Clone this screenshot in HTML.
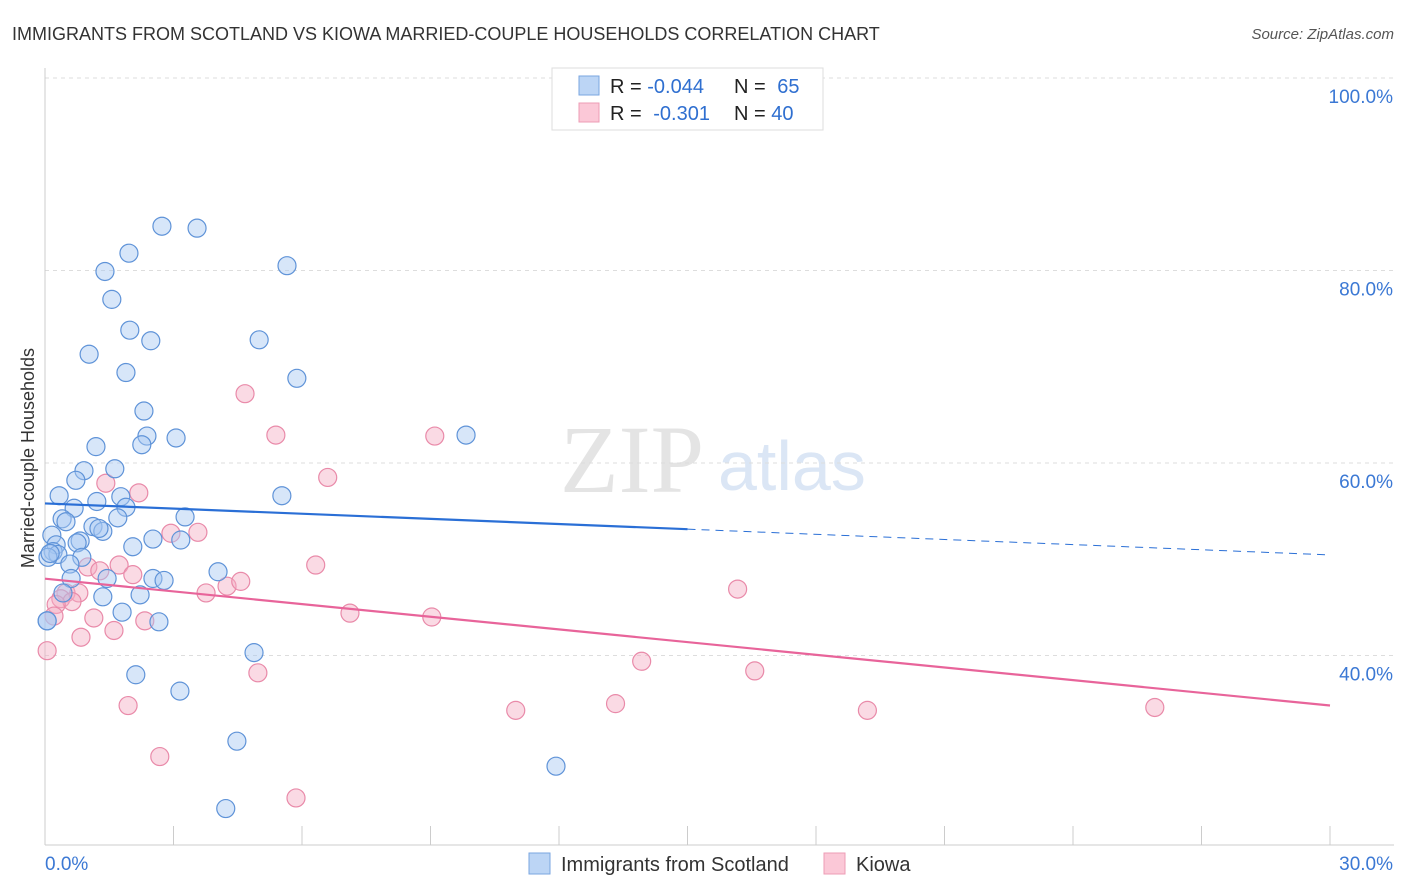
<!DOCTYPE html>
<html><head><meta charset="utf-8"><style>
body{margin:0;background:#fff;font-family:"Liberation Sans",sans-serif;}
svg{display:block}
</style></head><body>
<svg id="chart" width="1406" height="892">
<text x="12" y="40" font-size="18" fill="#333">IMMIGRANTS FROM SCOTLAND VS KIOWA MARRIED-COUPLE HOUSEHOLDS CORRELATION CHART</text>
<text x="1394" y="39" font-size="15" fill="#555" font-style="italic" text-anchor="end">Source: ZipAtlas.com</text>
<text x="560" y="492" font-size="96" fill="#e4e4e4" font-family="Liberation Serif">ZIP</text>
<text x="718" y="490" font-size="70" fill="#dbe6f5">atlas</text>
<g id="grid"></g><g id="pts"></g><g id="trend"></g>
<text transform="translate(34,458) rotate(-90)" font-size="18" fill="#333" text-anchor="middle">Married-couple Households</text>
<g>
<rect x="552" y="68" width="271" height="62" fill="#fff" stroke="#ddd"/>
<rect x="579" y="76" width="20" height="19" fill="#bcd5f5" stroke="#7aa6e0"/>
<rect x="579" y="103" width="20" height="19" fill="#fbc8d7" stroke="#ee9cb6"/>
<text x="610" y="93" font-size="20" fill="#222">R = <tspan fill="#2f6fd0">-0.044</tspan></text>
<text x="734" y="93" font-size="20" fill="#222">N = <tspan fill="#2f6fd0" dx="6">65</tspan></text>
<text x="610" y="120" font-size="20" fill="#222">R = <tspan fill="#2f6fd0" dx="6">-0.301</tspan></text>
<text x="734" y="120" font-size="20" fill="#222">N = <tspan fill="#2f6fd0">40</tspan></text>
</g>
<g>
<rect x="529" y="853" width="21" height="21" fill="#bcd5f5" stroke="#7aa6e0"/>
<text x="561" y="871" font-size="20" fill="#333">Immigrants from Scotland</text>
<rect x="824" y="853" width="21" height="21" fill="#fbc8d7" stroke="#ee9cb6"/>
<text x="856" y="871" font-size="20" fill="#333">Kiowa</text>
</g>
</svg>
<script>
const xTicks=[0,3,6,9,12,15,18,21,24,27,30];
const yTicks=[40,60,80,100];
const blueX=[2.73,3.55,1.96,5.65,1.4,1.56,1.98,2.47,5,1.03,1.89,5.88,2.31,2.38,3.06,2.26,9.83,1.19,0.33,0.91,1.63,0.72,1.21,1.77,1.89,5.53,0.68,0.4,0.49,1.7,3.27,1.12,1.35,1.26,0.16,0.82,0.75,0.26,2.52,3.17,2.05,0.19,0.3,0.86,0.58,4.04,0.61,1.45,2.52,2.78,0.42,1.35,2.22,1.8,2.66,0.05,4.88,2.12,3.15,4.48,11.93,4.22,0.07,0.12,0.05];
const blueY=[84.6,84.4,81.8,80.5,79.9,77,73.8,72.7,72.8,71.3,69.4,68.8,65.4,62.8,62.6,61.9,62.9,61.7,56.6,59.2,59.4,58.2,56,56.5,55.4,56.6,55.3,54.2,53.9,54.3,54.4,53.4,52.9,53.2,52.5,51.9,51.7,51.5,52.1,52,51.3,50.8,50.5,50.2,49.5,48.7,48,48,48,47.8,46.5,46.1,46.3,44.5,43.5,43.6,40.3,38,36.3,31.1,28.5,24.1,50.2,50.6,43.6];
const pinkX=[4.67,5.39,9.1,6.6,2.19,1.42,2.94,3.57,6.32,1.73,1.0,1.28,2.05,4.25,4.57,3.76,0.49,0.79,0.37,0.63,0.26,0.21,1.14,2.33,7.12,9.03,1.61,0.84,0.05,16.17,13.93,16.57,4.97,1.94,10.99,13.32,19.2,25.91,2.68,5.86];
const pinkY=[67.2,62.9,62.8,58.5,56.9,57.9,52.7,52.8,49.4,49.4,49.2,48.8,48.4,47.2,47.7,46.5,46.5,46.5,45.9,45.6,45.3,44.1,43.9,43.6,44.4,44,42.6,41.9,40.5,46.9,39.4,38.4,38.2,34.8,34.3,35,34.3,34.6,29.5,25.2];
const NS='http://www.w3.org/2000/svg';
const X=v=>45+v/30*1285, Y=v=>78+(100-v)/20*192.5;
function mk(t,a,p){const e=document.createElementNS(NS,t);for(const k in a)e.setAttribute(k,a[k]);p.appendChild(e);return e;}
const grid=document.getElementById('grid'),svg=document.getElementById('chart');
yTicks.forEach(v=>{const l=mk('line',{x1:45,x2:1394,y1:Y(v),y2:Y(v),stroke:'#ddd','stroke-dasharray':'4,4'},grid);


const t=mk('text',{x:1393,y:Y(v)+25,'font-size':19,fill:'#3b78d4','text-anchor':'end'},grid);t.textContent=v.toFixed(1)+'%';

});
const ax=mk('line',{x1:45,x2:45,y1:68,y2:845,stroke:'#ccc'},grid);


const bx=mk('line',{x1:45,x2:1394,y1:845,y2:845,stroke:'#ccc'},grid);


xTicks.forEach(v=>{const l=mk('line',{x1:X(v),x2:X(v),y1:826,y2:845,stroke:'#ccc'},grid);

});
[[0,'start',45],[30,'end',1393]].forEach(([v,a,x])=>{const t=mk('text',{x:x,y:870,'font-size':19,fill:'#3b78d4','text-anchor':a},grid);t.textContent=v.toFixed(1)+'%';

});
const pts=document.getElementById('pts');
function draw(xs,ys,fill,stroke,name){xs.forEach((x,i)=>{const c=mk('circle',{cx:X(x),cy:Y(ys[i]),r:9,fill:fill,'fill-opacity':0.45,stroke:stroke,'stroke-width':1.2},pts);

});}
draw(pinkX,pinkY,'#f5aec4','#e98aa9','kiowa-point');
draw(blueX,blueY,'#a7c7f2','#5f93d8','scotland-point');
const tr=document.getElementById('trend');
function fit(xs,ys){const n=xs.length,mx=xs.reduce((a,b)=>a+b)/n,my=ys.reduce((a,b)=>a+b)/n;let sxy=0,sxx=0;xs.forEach((x,i)=>{sxy+=(x-mx)*(ys[i]-my);sxx+=(x-mx)**2});const b=sxy/sxx;return [my-b*mx,b];}
const [ba,bb]=fit(blueX,blueY),[pa,pb]=fit(pinkX,pinkY);
let l=mk('line',{x1:X(0),y1:Y(ba),x2:X(15),y2:Y(ba+bb*15),stroke:'#2a6fd6','stroke-width':2.2},tr);


l=mk('line',{x1:X(15),y1:Y(ba+bb*15),x2:X(30),y2:Y(ba+bb*30),stroke:'#2a6fd6','stroke-width':1,'stroke-dasharray':'8,6'},tr);


l=mk('line',{x1:X(0),y1:Y(pa),x2:X(30),y2:Y(pa+pb*30),stroke:'#e8649a','stroke-width':2.2},tr);


</script>
</body></html>
